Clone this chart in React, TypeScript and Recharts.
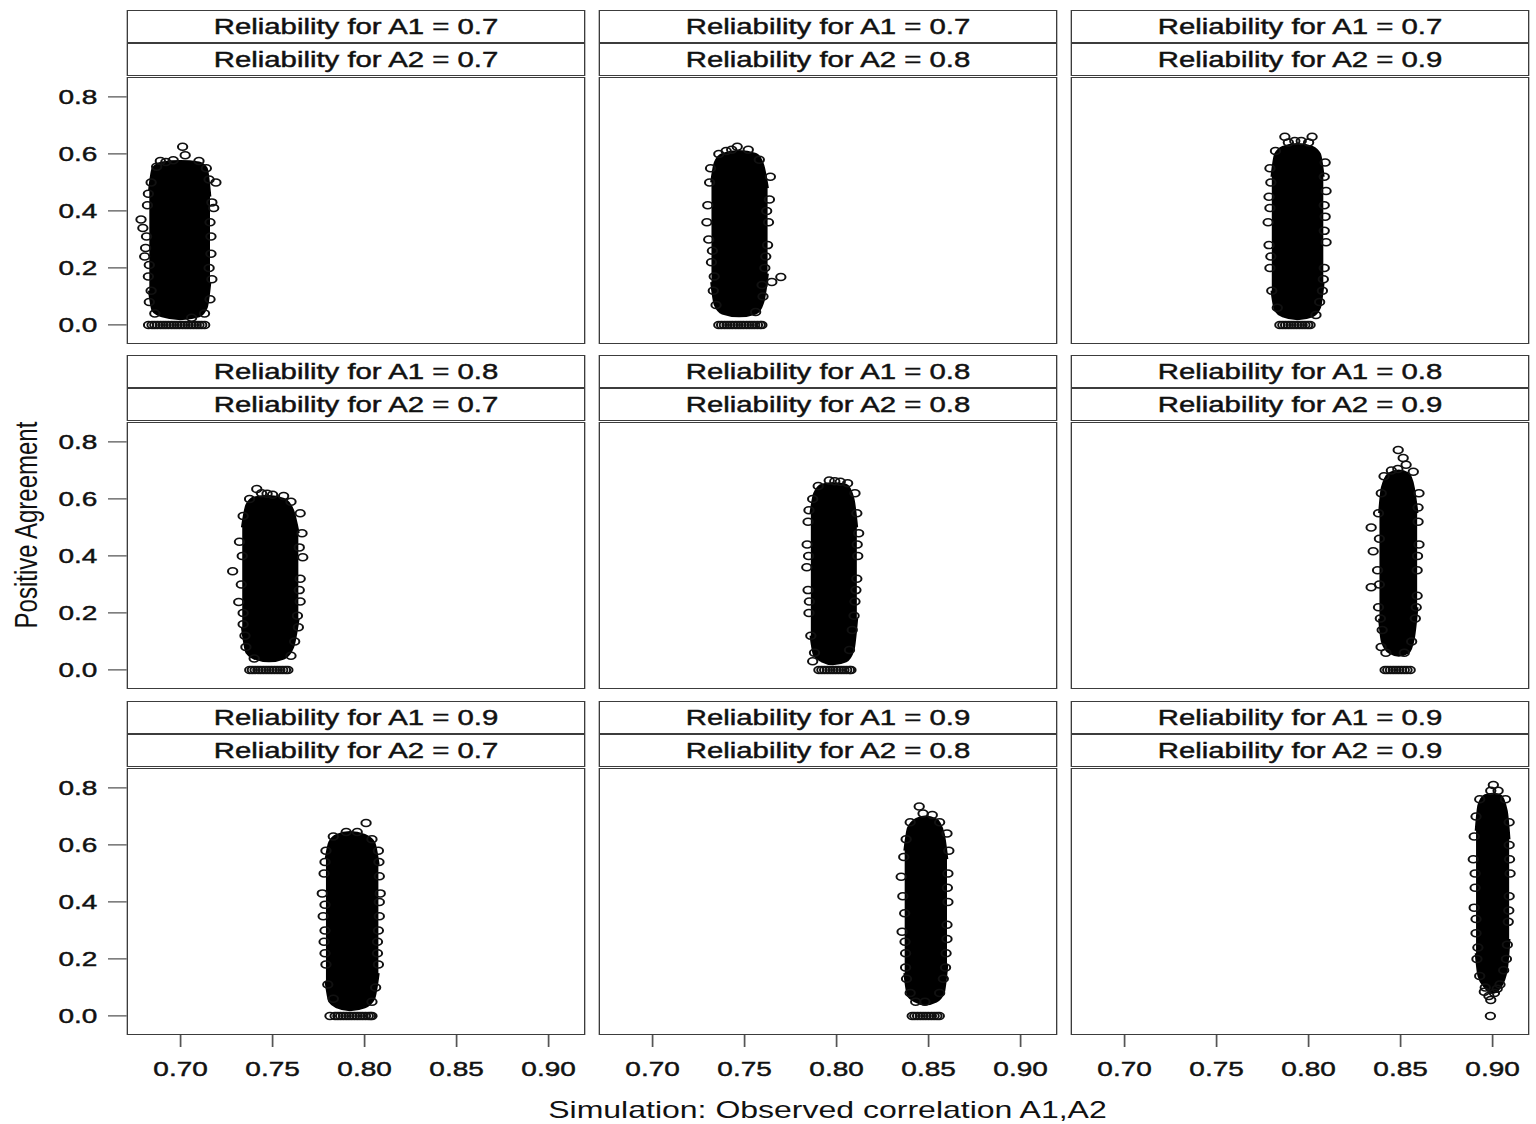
import React from 'react';
import { ComposedChart, Area, Scatter, XAxis, YAxis } from 'recharts';

const xTicks = [0.7, 0.75, 0.8, 0.85, 0.9];
const yTicks = [0, 0.2, 0.4, 0.6, 0.8];
const relA1 = ['0.7', '0.8', '0.9'];
const relA2 = ['0.7', '0.8', '0.9'];

// dense part of each cloud: [x, low, high]; edge = loose circles [x, y]; zero = circles on y = 0
const core11 = [[0.683, 0.12, 0.47], [0.685, 0.05, 0.55], [0.69, 0.03, 0.57], [0.7, 0.02, 0.575], [0.71, 0.03, 0.57], [0.714, 0.06, 0.55], [0.716, 0.15, 0.45]];
const edge11 = [[0.7011, 0.625], [0.7025, 0.595], [0.692, 0.572], [0.687, 0.555], [0.684, 0.5], [0.682, 0.42], [0.6785, 0.37], [0.6795, 0.34], [0.681, 0.27], [0.6805, 0.24], [0.6825, 0.17], [0.683, 0.08], [0.686, 0.04], [0.71, 0.575], [0.714, 0.55], [0.7192, 0.5], [0.717, 0.43], [0.718, 0.41], [0.7165, 0.31], [0.7165, 0.25], [0.717, 0.16], [0.716, 0.09], [0.713, 0.04], [0.706, 0.025], [0.6825, 0.46], [0.6815, 0.31], [0.683, 0.21], [0.684, 0.12], [0.7155, 0.51], [0.716, 0.36], [0.7155, 0.2], [0.689, 0.575], [0.696, 0.578]];
const zero11 = [0.6826, 0.6845, 0.686, 0.6875, 0.689, 0.6905, 0.692, 0.6935, 0.695, 0.6965, 0.698, 0.6995, 0.701, 0.7025, 0.704, 0.7055, 0.707, 0.7085, 0.71, 0.7115, 0.7131];

const core12 = [[0.732, 0.15, 0.5], [0.734, 0.07, 0.57], [0.738, 0.04, 0.6], [0.747, 0.03, 0.61], [0.756, 0.04, 0.6], [0.76, 0.08, 0.56], [0.7625, 0.18, 0.48]];
const edge12 = [[0.746, 0.625], [0.74, 0.61], [0.752, 0.615], [0.736, 0.6], [0.731, 0.5], [0.73, 0.42], [0.7295, 0.36], [0.7305, 0.3], [0.732, 0.22], [0.733, 0.12], [0.7345, 0.07], [0.758, 0.58], [0.764, 0.52], [0.7635, 0.44], [0.763, 0.36], [0.7625, 0.28], [0.761, 0.2], [0.76, 0.1], [0.756, 0.045], [0.7648, 0.151], [0.7697, 0.168], [0.7315, 0.55], [0.7325, 0.26], [0.7335, 0.17], [0.762, 0.4], [0.7615, 0.24], [0.7595, 0.14], [0.743, 0.615]];
const zero12 = [0.736, 0.7375, 0.739, 0.7405, 0.742, 0.7435, 0.745, 0.7465, 0.748, 0.7495, 0.751, 0.7525, 0.754, 0.7555, 0.757, 0.7585, 0.7594];

const core13 = [[0.78, 0.12, 0.52], [0.782, 0.05, 0.6], [0.786, 0.03, 0.625], [0.794, 0.02, 0.635], [0.802, 0.03, 0.625], [0.806, 0.06, 0.6], [0.808, 0.15, 0.52]];
const edge13 = [[0.7871, 0.66], [0.8019, 0.66], [0.789, 0.64], [0.796, 0.645], [0.8, 0.64], [0.782, 0.61], [0.779, 0.55], [0.7785, 0.45], [0.778, 0.36], [0.7785, 0.28], [0.779, 0.2], [0.78, 0.12], [0.783, 0.06], [0.809, 0.57], [0.8095, 0.47], [0.809, 0.38], [0.8095, 0.29], [0.8085, 0.2], [0.8075, 0.12], [0.806, 0.08], [0.804, 0.035], [0.7795, 0.5], [0.779, 0.41], [0.7795, 0.24], [0.8085, 0.52], [0.8085, 0.42], [0.8085, 0.33], [0.808, 0.16], [0.7925, 0.645]];
const zero13 = [0.7844, 0.786, 0.7875, 0.789, 0.7905, 0.792, 0.7935, 0.795, 0.7965, 0.798, 0.7995, 0.8008];

const core21 = [[0.7335, 0.15, 0.5], [0.736, 0.06, 0.58], [0.74, 0.04, 0.605], [0.748, 0.03, 0.61], [0.756, 0.04, 0.6], [0.761, 0.08, 0.56], [0.764, 0.18, 0.48]];
const edge21 = [[0.7414, 0.635], [0.744, 0.62], [0.75, 0.615], [0.756, 0.61], [0.76, 0.59], [0.7375, 0.6], [0.734, 0.54], [0.732, 0.45], [0.7283, 0.346], [0.733, 0.3], [0.7316, 0.238], [0.734, 0.16], [0.7355, 0.08], [0.74, 0.04], [0.765, 0.55], [0.766, 0.48], [0.7664, 0.395], [0.765, 0.32], [0.765, 0.24], [0.764, 0.15], [0.762, 0.1], [0.76, 0.05], [0.7335, 0.4], [0.734, 0.2], [0.735, 0.12], [0.7645, 0.43], [0.7645, 0.28], [0.7635, 0.19], [0.747, 0.618]];
const zero21 = [0.7376, 0.739, 0.7405, 0.742, 0.7435, 0.745, 0.7465, 0.748, 0.7495, 0.751, 0.7525, 0.754, 0.7555, 0.757, 0.7583];

const core22 = [[0.786, 0.12, 0.55], [0.788, 0.05, 0.62], [0.792, 0.03, 0.65], [0.798, 0.02, 0.655], [0.805, 0.03, 0.65], [0.809, 0.07, 0.6], [0.811, 0.18, 0.5]];
const edge22 = [[0.796, 0.665], [0.802, 0.66], [0.806, 0.655], [0.79, 0.645], [0.787, 0.6], [0.7845, 0.52], [0.784, 0.44], [0.7838, 0.36], [0.7845, 0.28], [0.785, 0.2], [0.786, 0.12], [0.788, 0.06], [0.787, 0.03], [0.81, 0.62], [0.811, 0.55], [0.812, 0.48], [0.8115, 0.4], [0.811, 0.32], [0.81, 0.24], [0.8085, 0.14], [0.807, 0.07], [0.785, 0.56], [0.7848, 0.4], [0.7852, 0.24], [0.8112, 0.44], [0.8105, 0.28], [0.8095, 0.19], [0.799, 0.662]];
const zero22 = [0.7904, 0.792, 0.7935, 0.795, 0.7965, 0.798, 0.7995, 0.801, 0.8025, 0.804, 0.8055, 0.807, 0.8078];

const core23 = [[0.8385, 0.18, 0.55], [0.84, 0.1, 0.64], [0.844, 0.06, 0.69], [0.849, 0.05, 0.7], [0.854, 0.06, 0.69], [0.857, 0.11, 0.64], [0.859, 0.22, 0.55]];
const edge23 = [[0.8487, 0.772], [0.8514, 0.744], [0.853, 0.72], [0.8569, 0.695], [0.845, 0.7], [0.841, 0.68], [0.8395, 0.62], [0.838, 0.55], [0.834, 0.5], [0.8351, 0.416], [0.8375, 0.35], [0.834, 0.29], [0.838, 0.22], [0.84, 0.14], [0.8394, 0.08], [0.842, 0.06], [0.86, 0.62], [0.8595, 0.52], [0.86, 0.44], [0.859, 0.35], [0.859, 0.26], [0.858, 0.18], [0.856, 0.1], [0.852, 0.06], [0.8385, 0.46], [0.8385, 0.3], [0.839, 0.18], [0.8595, 0.57], [0.8592, 0.4], [0.8585, 0.22], [0.8485, 0.705]];
const zero23 = [0.8416, 0.843, 0.8445, 0.846, 0.8475, 0.849, 0.8505, 0.852, 0.8535, 0.8552];

const core31 = [[0.779, 0.12, 0.55], [0.781, 0.05, 0.61], [0.785, 0.03, 0.635], [0.792, 0.02, 0.645], [0.8, 0.03, 0.635], [0.805, 0.06, 0.61], [0.8075, 0.15, 0.53]];
const edge31 = [[0.8008, 0.677], [0.79, 0.645], [0.796, 0.645], [0.783, 0.63], [0.804, 0.62], [0.779, 0.58], [0.778, 0.5], [0.777, 0.43], [0.7775, 0.35], [0.778, 0.26], [0.779, 0.18], [0.78, 0.11], [0.783, 0.06], [0.8075, 0.58], [0.808, 0.49], [0.8085, 0.43], [0.808, 0.35], [0.807, 0.26], [0.8075, 0.18], [0.806, 0.1], [0.804, 0.05], [0.7785, 0.54], [0.7785, 0.39], [0.7785, 0.3], [0.7785, 0.22], [0.8078, 0.54], [0.808, 0.4], [0.8075, 0.3], [0.807, 0.22]];
const zero31 = [0.7812, 0.784, 0.7855, 0.787, 0.7885, 0.79, 0.7915, 0.793, 0.7945, 0.796, 0.7975, 0.799, 0.8005, 0.802, 0.8032, 0.804];

const core32 = [[0.837, 0.15, 0.58], [0.839, 0.07, 0.66], [0.843, 0.05, 0.69], [0.848, 0.04, 0.7], [0.854, 0.05, 0.69], [0.858, 0.08, 0.64], [0.86, 0.18, 0.55]];
const edge32 = [[0.8449, 0.735], [0.847, 0.71], [0.84, 0.68], [0.852, 0.705], [0.856, 0.68], [0.8378, 0.62], [0.8365, 0.558], [0.8351, 0.488], [0.836, 0.42], [0.837, 0.36], [0.8356, 0.295], [0.8375, 0.22], [0.838, 0.13], [0.84, 0.08], [0.843, 0.05], [0.848, 0.05], [0.86, 0.64], [0.861, 0.58], [0.8605, 0.5], [0.8605, 0.4], [0.86, 0.32], [0.8595, 0.22], [0.858, 0.13], [0.856, 0.08], [0.8372, 0.26], [0.8375, 0.17], [0.8602, 0.45], [0.86, 0.27], [0.8592, 0.17]];
const zero32 = [0.8411, 0.8425, 0.844, 0.8455, 0.847, 0.8485, 0.85, 0.8515, 0.853, 0.8545, 0.8558];

const core33 = [[0.891, 0.22, 0.65], [0.8925, 0.14, 0.74], [0.896, 0.1, 0.775], [0.9, 0.08, 0.78], [0.904, 0.1, 0.775], [0.9075, 0.16, 0.72], [0.909, 0.27, 0.62]];
const edge33 = [[0.9004, 0.81], [0.899, 0.79], [0.903, 0.79], [0.893, 0.76], [0.891, 0.7], [0.89, 0.63], [0.8895, 0.55], [0.8905, 0.45], [0.89, 0.38], [0.891, 0.29], [0.8915, 0.2], [0.893, 0.14], [0.896, 0.1], [0.898, 0.07], [0.899, 0.056], [0.907, 0.76], [0.909, 0.68], [0.909, 0.6], [0.9095, 0.5], [0.909, 0.42], [0.9085, 0.33], [0.908, 0.25], [0.906, 0.16], [0.904, 0.11], [0.901, 0.08], [0.8905, 0.5], [0.891, 0.34], [0.892, 0.24], [0.9092, 0.55], [0.9088, 0.37], [0.9075, 0.2], [0.8955, 0.085], [0.9025, 0.095]];
const zero33 = [0.8988];

const cores = [[core11, core12, core13], [core21, core22, core23], [core31, core32, core33]];
const edges = [[edge11, edge12, edge13], [edge21, edge22, edge23], [edge31, edge32, edge33]];
const zeros = [[zero11, zero12, zero13], [zero21, zero22, zero23], [zero31, zero32, zero33]];

// layout is drawn 1152 wide and stretched to 1536, like the original image
const STRETCH = 1536 / 1152;
const W = 343.5;
const H = 267;
const colLeft = [95.25, 449.25, 803.25];
const rowTop = [77, 422, 768];
const YW = 70;
const XH = 75;
const FONT = '"Liberation Sans", Arial, sans-serif';
const BORDER = '1.5px solid #3c3c3c';
const tickStyle = { fontSize: 21, fill: '#111', fontFamily: FONT, stroke: '#111', strokeWidth: 0.45 };

const ring = (p: any) => (
  <circle cx={p.cx} cy={p.cy} r={3.5} fill="none" stroke="#111" strokeWidth={1.5} />
);

function Strip({ left, top, text }: { left: number; top: number; text: string }) {
  return (
    <div
      style={{
        position: 'absolute', left, top, width: W, height: 33, boxSizing: 'border-box',
        border: BORDER, background: '#fff', textAlign: 'center', lineHeight: '31px',
        fontSize: 22, color: '#111', fontFamily: FONT, WebkitTextStroke: '0.45px #111',
      }}
    >
      {text}
    </div>
  );
}

function Panel({ row, col }: { row: number; col: number }) {
  const showY = col === 0;
  const showX = row === 2;
  const left = colLeft[col];
  const top = rowTop[row];
  const coreData = cores[row][col].map(([x, lo, hi]) => ({ x, y: lo, r: [lo, hi] }));
  const edgeData = edges[row][col].map(([x, y]) => ({ x, y }));
  const zeroData = zeros[row][col].map((x) => ({ x, y: 0 }));
  return (
    <>
      <Strip left={left} top={top - 67} text={`Reliability for A1 = ${relA1[row]}`} />
      <Strip left={left} top={top - 34} text={`Reliability for A2 = ${relA2[col]}`} />
      <div style={{ position: 'absolute', left: left - (showY ? YW : 0), top }}>
        <ComposedChart
          width={W + (showY ? YW : 0)}
          height={H + (showX ? XH : 0)}
          data={coreData}
          margin={{ top: 0, right: 0, bottom: 0, left: 0 }}
        >
          <XAxis
            type="number" dataKey="x" domain={[0.6707, 0.9196]} allowDataOverflow
            ticks={xTicks} interval={0} hide={!showX} height={XH}
            axisLine={false} tickLine={{ stroke: '#555', strokeWidth: 1.3 }}
            tickSize={12} tickMargin={14}
            tick={tickStyle}
            tickFormatter={(v: number) => v.toFixed(2)}
          />
          <YAxis
            type="number" dataKey="y" domain={[-0.067, 0.87]} allowDataOverflow
            ticks={yTicks} interval={0} hide={!showY} width={YW}
            axisLine={false} tickLine={{ stroke: '#555', strokeWidth: 1.3 }}
            tickSize={14} tickMargin={8}
            tick={tickStyle}
            tickFormatter={(v: number) => v.toFixed(1)}
          />
          <Area
            dataKey="r" type="monotone" fill="#000" fillOpacity={1}
            stroke="#000" strokeWidth={2} dot={false} activeDot={false}
            isAnimationActive={false}
          />
          <Scatter data={edgeData} shape={ring} isAnimationActive={false} />
          <Scatter data={zeroData} shape={ring} isAnimationActive={false} />
        </ComposedChart>
      </div>
      <div
        style={{
          position: 'absolute', left, top, width: W, height: H,
          boxSizing: 'border-box', border: BORDER, pointerEvents: 'none',
        }}
      />
    </>
  );
}

export default function App() {
  const cells = [];
  for (let r = 0; r < 3; r++) for (let c = 0; c < 3; c++) cells.push(<Panel key={`${r}-${c}`} row={r} col={c} />);
  return (
    <div
      style={{
        position: 'absolute', left: 0, top: 0, width: 1152, height: 1124, background: '#fff',
        transform: `scaleX(${STRETCH})`, transformOrigin: '0 0', fontFamily: FONT,
      }}
    >
      {cells}
      <div
        style={{
          position: 'absolute', left: 20, top: 525, transform: 'translate(-50%, -50%) rotate(-90deg)',
          fontSize: 24, color: '#111', whiteSpace: 'nowrap',
        }}
      >
        Positive Agreement
      </div>
      <div
        style={{
          position: 'absolute', left: 620.6, top: 1110, transform: 'translate(-50%, -50%)',
          fontSize: 24, color: '#111', whiteSpace: 'nowrap',
        }}
      >
        Simulation: Observed correlation A1,A2
      </div>
    </div>
  );
}
